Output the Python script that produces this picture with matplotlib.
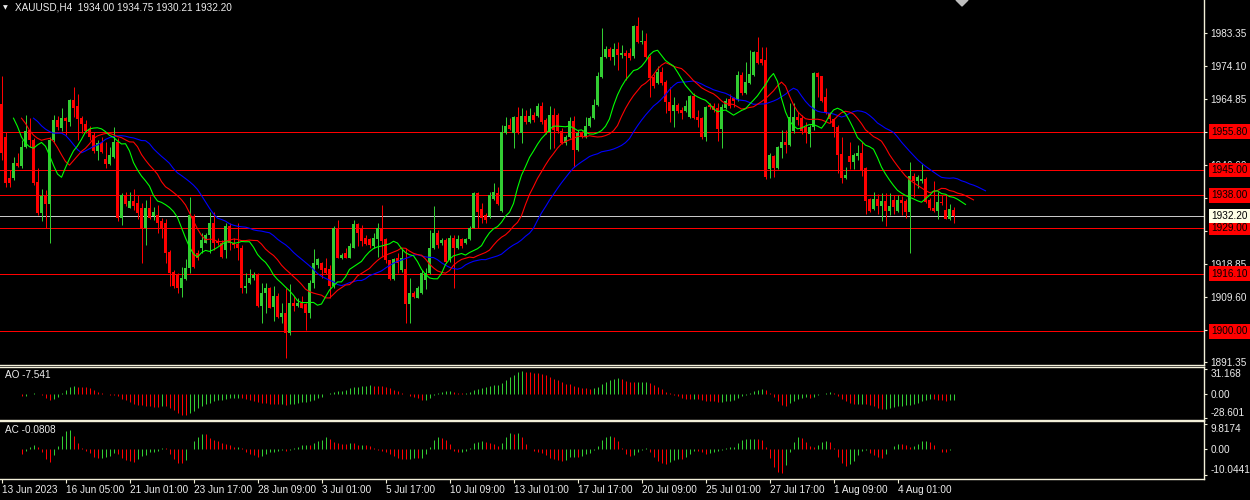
import numpy as np
import pandas as pd
import matplotlib
matplotlib.use("Agg")
import matplotlib.pyplot as plt
from matplotlib.patches import Polygon

plt.rcParams['font.family'] = ['Liberation Sans', 'DejaVu Sans']

# XAUUSD H4 candles, 13 Jun - 4 Aug 2023
opens = [
    1963.5, 1954.2, 1942.8, 1942.8, 1947.0, 1946.1, 1951.4, 1956.2, 1953.4, 1941.6,
    1933.0, 1937.7, 1935.5, 1953.4, 1959.0, 1956.8, 1959.6, 1958.4, 1964.6, 1962.9,
    1959.6, 1957.9, 1956.5, 1954.8, 1950.3, 1952.6, 1948.1, 1946.7, 1948.6, 1952.8,
    1931.8, 1938.0, 1934.4, 1936.3, 1935.8, 1934.4, 1928.8, 1934.4, 1932.1, 1932.4,
    1930.7, 1930.4, 1922.3, 1916.7, 1915.6, 1912.0, 1914.5, 1917.6, 1932.1, 1921.8,
    1923.2, 1924.8, 1926.8, 1930.2, 1925.1, 1924.8, 1922.6, 1929.3, 1924.8, 1924.3,
    1923.4, 1912.0, 1913.4, 1915.0, 1915.6, 1907.2, 1910.6, 1912.0, 1906.9, 1910.0,
    1904.1, 1905.2, 1899.4, 1908.0, 1907.2, 1907.8, 1907.5, 1905.0, 1913.4, 1918.4,
    1919.2, 1917.8, 1917.3, 1912.8, 1929.0, 1920.6, 1921.8, 1920.6, 1923.4, 1929.9,
    1928.5, 1926.2, 1925.7, 1923.7, 1925.7, 1929.0, 1925.7, 1919.8, 1914.5, 1920.4,
    1917.0, 1917.3, 1907.5, 1910.6, 1909.4, 1910.6, 1914.2, 1916.2, 1923.2, 1927.4,
    1924.6, 1925.4, 1919.8, 1926.0, 1923.2, 1925.7, 1924.6, 1925.7, 1929.0, 1938.6,
    1934.1, 1932.4, 1932.1, 1936.9, 1938.6, 1933.5, 1955.4, 1957.6, 1955.4, 1959.8,
    1955.4, 1960.1, 1958.4, 1960.4, 1960.1, 1962.9, 1959.0, 1955.6, 1960.4, 1960.4,
    1955.9, 1952.6, 1954.2, 1958.7, 1950.6, 1955.4, 1954.2, 1957.3, 1959.6, 1963.2,
    1971.0, 1976.6, 1978.9, 1976.6, 1978.9, 1977.2, 1977.8, 1977.8, 1976.9, 1985.3,
    1980.8, 1981.1, 1976.6, 1971.0, 1969.4, 1972.4, 1969.6, 1964.0, 1961.5, 1963.2,
    1961.8, 1961.5, 1959.8, 1965.7, 1959.8, 1959.6, 1954.2, 1963.2, 1962.9, 1962.4,
    1956.5, 1962.4, 1964.9, 1965.2, 1964.6, 1971.6, 1966.6, 1969.4, 1971.6, 1978.0,
    1976.1, 1975.8, 1945.3, 1948.9, 1945.6, 1951.2, 1952.8, 1952.0, 1955.9, 1959.8,
    1959.6, 1957.0, 1955.1, 1957.0, 1972.2, 1971.3, 1965.4, 1961.0, 1959.3, 1957.0,
    1949.5, 1942.8, 1948.9, 1947.2, 1948.9, 1949.8, 1945.6, 1936.9, 1934.1, 1936.9,
    1934.9, 1936.3, 1933.5, 1936.6, 1933.5, 1936.6, 1936.3, 1933.2, 1943.3, 1941.9,
    1941.9, 1942.5, 1936.6, 1934.4, 1933.5, 1936.0, 1933.8, 1931.3, 1934.00]

highs = [
    1971.3, 1955.6, 1945.0, 1948.6, 1949.8, 1953.4, 1960.4, 1959.6, 1954.0, 1945.6,
    1939.9, 1939.4, 1954.2, 1960.4, 1960.1, 1962.4, 1959.8, 1964.9, 1968.2, 1966.3,
    1960.1, 1959.0, 1957.3, 1955.6, 1953.4, 1954.2, 1952.8, 1951.4, 1957.0, 1954.0,
    1938.6, 1938.8, 1938.8, 1939.7, 1938.0, 1935.8, 1936.6, 1937.7, 1934.6, 1935.2,
    1931.8, 1931.3, 1922.6, 1917.0, 1916.2, 1918.1, 1920.1, 1937.4, 1932.7, 1922.6,
    1927.4, 1927.4, 1933.2, 1933.2, 1926.0, 1925.4, 1930.2, 1930.4, 1926.0, 1930.4,
    1924.0, 1916.2, 1917.3, 1916.7, 1916.4, 1913.4, 1913.4, 1912.5, 1912.8, 1910.6,
    1908.0, 1912.2, 1913.1, 1910.0, 1909.4, 1910.0, 1907.8, 1914.2, 1922.9, 1920.6,
    1919.5, 1920.6, 1918.4, 1929.3, 1931.0, 1922.0, 1923.2, 1924.6, 1931.0, 1930.4,
    1929.6, 1926.8, 1926.2, 1927.4, 1930.4, 1935.2, 1926.0, 1919.8, 1920.6, 1921.8,
    1923.2, 1923.4, 1915.0, 1911.4, 1912.8, 1917.0, 1917.6, 1928.2, 1934.9, 1928.2,
    1926.0, 1926.0, 1926.8, 1926.8, 1926.8, 1926.2, 1926.2, 1929.3, 1938.9, 1939.0,
    1935.8, 1933.0, 1938.8, 1941.4, 1940.2, 1957.6, 1959.8, 1959.6, 1960.1, 1962.6,
    1962.4, 1961.8, 1962.4, 1961.2, 1963.8, 1964.0, 1959.6, 1962.9, 1962.4, 1961.0,
    1956.8, 1954.8, 1959.8, 1960.1, 1956.2, 1955.9, 1959.8, 1960.1, 1964.9, 1972.4,
    1984.8, 1979.7, 1979.4, 1980.6, 1980.8, 1980.0, 1978.6, 1979.2, 1985.6, 1987.8,
    1984.2, 1983.4, 1977.2, 1971.9, 1974.1, 1973.8, 1970.2, 1968.2, 1965.4, 1963.8,
    1962.6, 1964.6, 1966.0, 1966.6, 1961.8, 1959.8, 1962.9, 1963.8, 1963.8, 1963.8,
    1963.5, 1965.2, 1966.3, 1965.4, 1972.7, 1972.4, 1975.2, 1978.6, 1978.3, 1982.2,
    1979.4, 1979.4, 1949.8, 1949.2, 1951.7, 1956.2, 1956.2, 1963.8, 1963.8, 1961.2,
    1960.4, 1958.4, 1957.6, 1972.4, 1972.4, 1971.3, 1968.0, 1961.2, 1959.6, 1957.6,
    1954.2, 1945.8, 1952.8, 1949.8, 1952.0, 1952.8, 1945.8, 1937.2, 1938.8, 1938.3,
    1938.6, 1938.6, 1938.6, 1938.0, 1938.0, 1937.7, 1936.9, 1947.2, 1944.2, 1943.6,
    1946.7, 1943.0, 1937.2, 1941.9, 1938.8, 1938.0, 1938.3, 1935.5, 1934.75]

lows = [
    1947.8, 1940.2, 1940.2, 1942.2, 1945.8, 1945.6, 1951.2, 1951.4, 1940.8, 1932.4,
    1930.7, 1929.0, 1924.6, 1952.8, 1956.2, 1955.9, 1954.8, 1957.3, 1959.8, 1953.4,
    1955.4, 1955.4, 1953.4, 1949.8, 1947.8, 1949.8, 1945.6, 1946.4, 1948.4, 1930.7,
    1929.6, 1934.9, 1934.4, 1933.8, 1931.3, 1919.0, 1924.0, 1931.3, 1931.0, 1927.6,
    1926.2, 1919.0, 1912.8, 1912.2, 1910.6, 1909.7, 1914.2, 1916.4, 1917.6, 1919.8,
    1922.0, 1924.6, 1921.8, 1922.6, 1924.0, 1920.6, 1920.6, 1922.6, 1923.4, 1919.8,
    1910.8, 1910.6, 1913.1, 1914.2, 1906.9, 1902.4, 1905.2, 1906.4, 1903.0, 1903.8,
    1902.2, 1892.6, 1899.1, 1905.8, 1906.9, 1906.4, 1900.5, 1903.8, 1912.2, 1917.8,
    1915.0, 1915.9, 1909.4, 1912.2, 1920.4, 1920.1, 1920.4, 1920.4, 1923.2, 1923.7,
    1923.7, 1924.0, 1923.4, 1923.4, 1920.9, 1920.9, 1919.2, 1914.2, 1914.2, 1916.4,
    1916.7, 1902.4, 1902.4, 1909.2, 1909.2, 1910.3, 1911.7, 1915.9, 1922.9, 1923.4,
    1924.0, 1919.2, 1919.5, 1912.2, 1922.9, 1923.2, 1924.3, 1925.4, 1928.8, 1929.0,
    1930.4, 1930.4, 1931.8, 1936.6, 1935.2, 1933.2, 1955.1, 1956.2, 1951.2, 1955.1,
    1952.6, 1957.9, 1958.2, 1958.4, 1959.8, 1957.9, 1955.1, 1950.9, 1951.2, 1955.4,
    1952.3, 1952.0, 1954.0, 1945.8, 1950.3, 1954.0, 1954.0, 1957.0, 1959.3, 1962.9,
    1970.8, 1976.4, 1975.8, 1974.4, 1973.0, 1976.4, 1970.2, 1975.8, 1976.4, 1980.6,
    1980.3, 1976.4, 1965.4, 1968.0, 1969.1, 1968.8, 1961.0, 1958.4, 1957.0, 1961.0,
    1959.3, 1961.2, 1959.6, 1959.3, 1957.0, 1953.7, 1953.1, 1962.1, 1961.2, 1953.1,
    1951.2, 1962.1, 1962.4, 1962.6, 1964.3, 1966.0, 1966.3, 1969.1, 1971.3, 1974.7,
    1974.4, 1942.5, 1942.8, 1943.0, 1945.3, 1948.4, 1949.8, 1951.7, 1955.4, 1957.6,
    1955.1, 1952.6, 1951.4, 1956.2, 1965.4, 1964.0, 1960.7, 1958.2, 1954.2, 1944.2,
    1941.4, 1942.5, 1945.3, 1945.3, 1947.8, 1943.3, 1932.7, 1933.2, 1933.8, 1932.7,
    1930.7, 1929.3, 1932.4, 1932.7, 1933.2, 1932.4, 1931.8, 1921.8, 1937.4, 1940.0,
    1941.4, 1935.8, 1933.8, 1933.2, 1931.3, 1935.2, 1931.3, 1931.0, 1930.21]

closes = [
    1949.8, 1941.4, 1941.4, 1947.0, 1946.1, 1951.4, 1955.9, 1953.4, 1941.4, 1933.0,
    1937.7, 1935.5, 1953.4, 1959.0, 1957.0, 1959.6, 1958.7, 1964.6, 1962.4, 1959.3,
    1957.9, 1955.9, 1954.2, 1950.3, 1952.6, 1950.0, 1946.7, 1949.2, 1952.8, 1931.8,
    1938.0, 1935.5, 1936.3, 1934.9, 1933.0, 1928.8, 1934.4, 1931.8, 1933.2, 1930.2,
    1928.8, 1922.0, 1916.4, 1912.8, 1912.0, 1915.0, 1917.8, 1932.4, 1918.1, 1920.6,
    1925.4, 1926.8, 1930.2, 1924.6, 1924.6, 1920.9, 1929.3, 1924.8, 1924.0, 1923.4,
    1912.0, 1912.8, 1915.0, 1915.6, 1907.2, 1910.6, 1912.0, 1906.6, 1910.0, 1904.1,
    1905.2, 1899.4, 1908.0, 1907.2, 1908.0, 1906.6, 1905.0, 1913.4, 1919.0, 1920.1,
    1917.0, 1916.4, 1912.8, 1929.0, 1920.6, 1921.2, 1920.6, 1923.7, 1929.9, 1927.6,
    1925.1, 1924.3, 1924.0, 1926.0, 1929.0, 1925.1, 1919.8, 1914.5, 1920.1, 1919.2,
    1920.6, 1907.5, 1910.8, 1909.7, 1912.2, 1916.4, 1916.4, 1923.2, 1927.4, 1924.0,
    1925.4, 1919.5, 1926.2, 1923.2, 1925.7, 1923.7, 1925.7, 1929.0, 1938.6, 1933.2,
    1931.8, 1931.0, 1938.0, 1938.8, 1935.5, 1955.6, 1957.3, 1956.5, 1959.8, 1955.4,
    1960.1, 1958.4, 1960.1, 1959.0, 1962.9, 1958.4, 1955.6, 1960.4, 1956.2, 1955.9,
    1952.6, 1954.2, 1958.7, 1950.6, 1955.4, 1954.2, 1957.3, 1959.6, 1963.2, 1971.3,
    1976.6, 1978.9, 1976.6, 1978.9, 1977.2, 1977.8, 1976.9, 1976.4, 1985.3, 1980.8,
    1981.1, 1976.6, 1970.8, 1968.5, 1972.4, 1969.4, 1964.0, 1961.5, 1963.2, 1961.5,
    1961.0, 1962.9, 1965.7, 1959.6, 1959.0, 1954.2, 1962.6, 1962.6, 1961.8, 1956.5,
    1962.6, 1964.3, 1962.9, 1964.3, 1971.6, 1966.6, 1969.6, 1971.9, 1978.0, 1975.0,
    1975.0, 1943.0, 1949.2, 1945.6, 1951.4, 1952.8, 1952.0, 1959.8, 1959.8, 1959.0,
    1955.9, 1955.4, 1957.0, 1972.2, 1971.0, 1964.3, 1961.0, 1959.3, 1957.0, 1949.2,
    1942.8, 1943.6, 1947.2, 1949.2, 1949.8, 1945.0, 1936.3, 1933.5, 1936.9, 1934.9,
    1936.3, 1933.5, 1934.9, 1934.6, 1936.6, 1935.8, 1933.2, 1943.3, 1941.9, 1943.0,
    1942.5, 1936.0, 1934.4, 1933.5, 1936.0, 1935.8, 1931.3, 1934.1, 1932.20]

levels = [1955.80, 1945.00, 1938.00, 1929.00, 1916.10, 1900.00]
last_price = 1932.20
price_ticks = [1983.35, 1974.10, 1964.85, 1955.60, 1946.60, 1937.35,
               1928.10, 1918.85, 1909.60, 1900.35, 1891.35]
date_labels = ["13 Jun 2023", "16 Jun 05:00", "21 Jun 01:00", "23 Jun 17:00",
               "28 Jun 09:00", "3 Jul 01:00", "5 Jul 17:00", "10 Jul 09:00",
               "13 Jul 01:00", "17 Jul 17:00", "20 Jul 09:00", "25 Jul 01:00",
               "27 Jul 17:00", "1 Aug 09:00", "4 Aug 01:00"]
ao_ticks = [31.168, 0.0, -28.601]
ac_ticks = [9.8174, 0.0, -10.0441]

o = np.array(opens)
h = np.array(highs)
l = np.array(lows)
c = np.array(closes)
n = len(c)
x = np.arange(n)

GREEN = '#32CD32'
RED = '#FF0000'
FG = '#F2EFD8'
TXT = '#EDEDED'
PX = 0.72  # one pixel in points

# indicators: alligator, awesome oscillator, accelerator
med = pd.Series((h + l) / 2)
jaw = med.ewm(alpha=1 / 13, adjust=False).mean()
teeth = med.ewm(alpha=1 / 8, adjust=False).mean()
lips = med.ewm(alpha=1 / 5, adjust=False).mean()
ao = med.rolling(5, min_periods=1).mean() - med.rolling(34, min_periods=1).mean()
ac = ao - ao.rolling(5, min_periods=1).mean()

W, H = 1250, 500
fig = plt.figure(figsize=(W / 100, H / 100), dpi=100, facecolor='black')


def panel(top, bottom):
    return fig.add_axes([0, 1 - bottom / H, 1204 / W, (bottom - top) / H])


ax = panel(0, 365)
ax_ao = panel(367, 420)
ax_ac = panel(421, 479)

for a in (ax, ax_ao, ax_ac):
    a.set_facecolor('black')
    a.set_xlim(-0.375, 300.625)   # 4 px per bar, bar centres on pixel centres
    a.yaxis.tick_right()
    a.tick_params(axis='y', colors=FG, labelcolor=TXT, labelsize=7.2, length=2.5,
                  width=0.8, pad=2)
    a.spines['left'].set_visible(False)
    for s in ('top', 'right', 'bottom'):
        a.spines[s].set_color(FG)
        a.spines[s].set_linewidth(1.0)
ax.spines['top'].set_visible(False)

# main chart
ax.set_ylim(1890.59, 1992.57)
for lv in levels:
    ax.axhline(lv, color=RED, lw=PX, zorder=1, antialiased=False)
ax.axhline(last_price, color='#C8C8C8', lw=PX, zorder=1, antialiased=False)

col = np.where(c >= o, GREEN, RED)
ax.vlines(x, l, h, colors=col, lw=PX, zorder=2)
ax.bar(x, np.maximum(np.abs(c - o), 0.25), bottom=np.minimum(o, c), width=0.72,
       color=col, linewidth=0, zorder=2)

ax.plot(x + 8, jaw, color='#0000FF', lw=0.8, zorder=3)
ax.plot(x + 5, teeth, color=RED, lw=0.8, zorder=3)
ax.plot(x + 3, lips, color='#00FF00', lw=0.8, zorder=3)

ax.set_yticks(price_ticks)
ax.set_yticklabels([f"{v:.2f}" for v in price_ticks])
ax.tick_params(axis='x', bottom=False, labelbottom=False)

ytr = ax.get_yaxis_transform()
for lv in levels:
    ax.text(1.006, lv, f"{lv:.2f}", transform=ytr, ha='left', va='center', fontsize=7.2,
            color='black', clip_on=False, zorder=5,
            bbox=dict(boxstyle='square,pad=0.22', fc=RED, ec='none'))
ax.text(1.006, last_price, f"{last_price:.2f}", transform=ytr, ha='left', va='center',
        fontsize=7.2, color='black', clip_on=False, zorder=5,
        bbox=dict(boxstyle='square,pad=0.22', fc='#FFFFE6', ec='none'))


# oscillators
def hist(a, vals, ticks, lo, hi, name):
    v = vals.to_numpy()
    rising = np.r_[True, v[1:] > v[:-1]]
    a.vlines(x, 0, v, colors=np.where(rising, GREEN, RED), lw=PX)
    a.set_ylim(lo, hi)
    a.set_yticks(ticks)
    labels = a.set_yticklabels([f"{t:g}" if t else "0.00" for t in ticks])
    labels[0].set_va('top')
    labels[-1].set_va('bottom')
    a.text(0.004, 0.84, name, transform=a.transAxes, color=TXT, fontsize=7.2,
           ha='left', va='center')


hist(ax_ao, ao, ao_ticks, -31.5, 33.5, "AO -7.541")
hist(ax_ac, ac, ac_ticks, -11.5, 11.0, "AC -0.0808")

ax_ao.tick_params(axis='x', bottom=False, labelbottom=False)
ax_ac.set_xticks(np.arange(len(date_labels)) * 16)
ax_ac.set_xticklabels(date_labels)
ax_ac.tick_params(axis='x', colors=FG, labelcolor=TXT, labelsize=7.2, length=3,
                  width=0.8, pad=1.5)
for lbl in ax_ac.get_xticklabels():
    lbl.set_ha('left')

# header and chart-shift marker
fig.text(3 / W, 1 - 7.5 / H, "\u25BC", color=TXT, fontsize=4.5, va='center',
         family='DejaVu Sans')
fig.text(15 / W, 1 - 7.5 / H, "XAUUSD,H4  1934.00 1934.75 1930.21 1932.20",
         color=TXT, fontsize=7.2, va='center')
fig.add_artist(Polygon([[956 / W, 1], [968 / W, 1], [962 / W, 1 - 6 / H]],
                       closed=True, transform=fig.transFigure, color='#BEBEBE'))

fig.savefig("out.png", dpi=100, facecolor='black')
